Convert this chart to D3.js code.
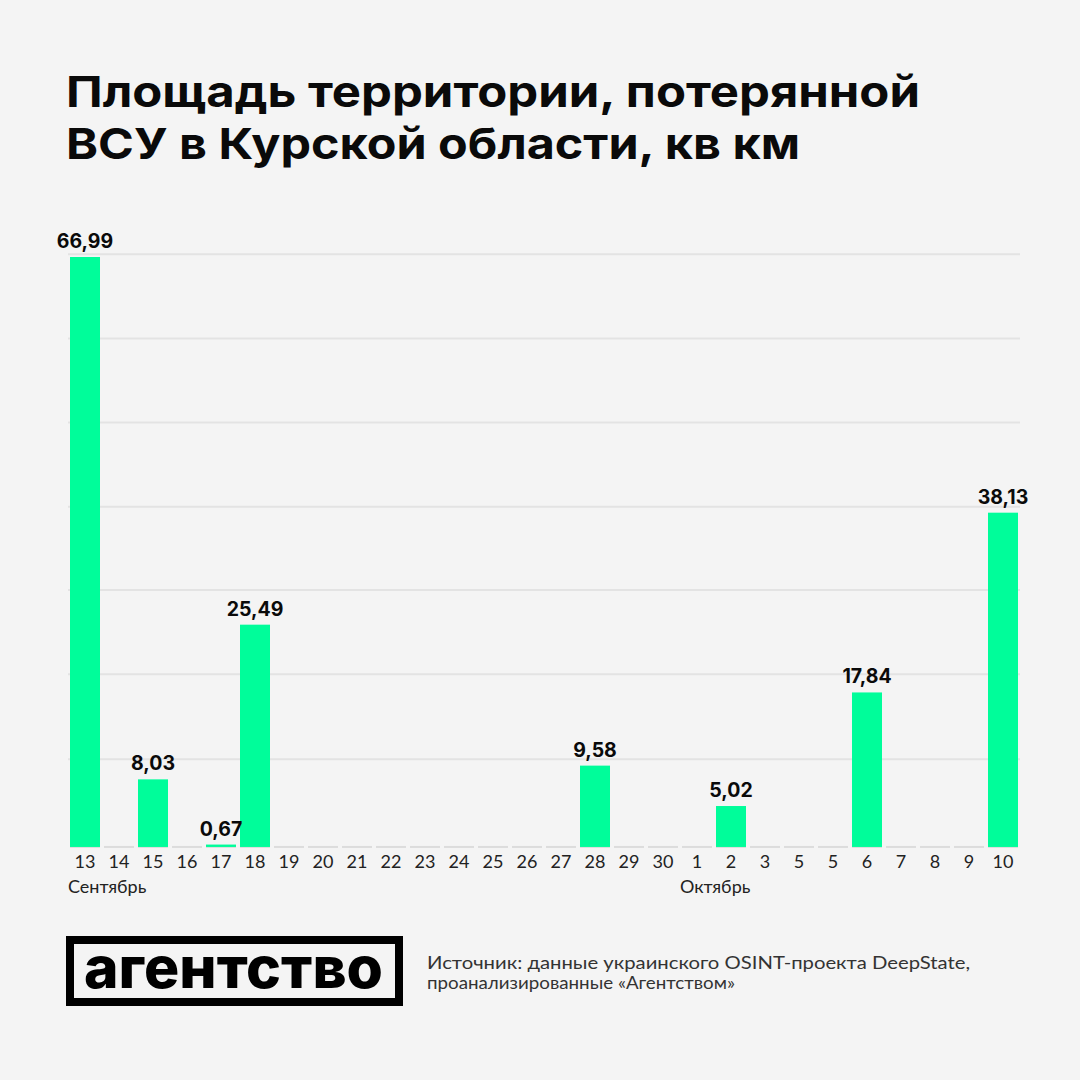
<!DOCTYPE html>
<html>
<head>
<meta charset="utf-8">
<script src="https://cdn.jsdelivr.net/npm/d3@7"></script>
<style>
  html, body { margin: 0; padding: 0; background: #f4f4f4; }
  svg { display: block; }
</style>
</head>
<body>
<svg id="chart" width="1080" height="1080"></svg>
<script>
// ---- data ----
const dayLabels = ["13","14","15","16","17","18","19","20","21","22","23","24","25","26","27","28","29","30","1","2","3","5","5","6","7","8","9","10"];
const values    = [66.99,0,8.03,0,0.67,25.49,0,0,0,0,0,0,0,0,0,9.58,0,0,0,5.02,0,0,0,17.84,0,0,0,38.13];
const months    = [{name:"Сентябрь", first:0},{name:"Октябрь", first:18}];
const gridValues = [10.3, 19.9, 29.4, 38.8, 48.3, 57.8, 67.3];
const baseValue = 0.4;
const titleLines = ["Площадь территории, потерянной", "ВСУ в Курской области, кв км"];
const titleWidths = [854, 734];
const sourceLines = ["Источник: данные украинского OSINT-проекта DeepState,", "проанализированные «Агентством»"];
const sourceWidths = [543, 308];
const logoText = "агентство";

// ---- setup ----
const svg = d3.select("#chart");
svg.append("rect").attr("width",1080).attr("height",1080).attr("fill","#f4f4f4");

const keys = dayLabels.map((d,i)=>i);
const x = d3.scaleBand().domain(keys).range([68,1020]).paddingInner(4/34).paddingOuter(2/34);
const y = d3.scaleLinear().domain([0,66.99]).range([850.5,257]);

const locale = d3.formatLocale({decimal:",", thousands:" ", grouping:[3], currency:["",""]});
const fmt = locale.format(".2f");

// title
svg.append("g").selectAll("text").data(titleLines).join("text")
  .attr("x",66).attr("y",(d,i)=>107+i*52)
  .attr("font-family","Inter, sans-serif").attr("font-weight",700)
  .attr("font-size",43).attr("fill","#0a0a0a")
  .attr("textLength",(d,i)=>titleWidths[i]).attr("lengthAdjust","spacingAndGlyphs")
  .text(d=>d);

// gridlines
svg.append("g").selectAll("line").data(gridValues).join("line")
  .attr("x1",68).attr("x2",1020)
  .attr("y1",d=>y(d)).attr("y2",d=>y(d))
  .attr("stroke","#e3e3e3").attr("stroke-width",2);

// baseline segments
svg.append("g").selectAll("line").data(keys).join("line")
  .attr("x1",d=>x(d)).attr("x2",d=>x(d)+x.bandwidth())
  .attr("y1",y(baseValue)).attr("y2",y(baseValue))
  .attr("stroke","#dcdcdc").attr("stroke-width",2);

// bars
const nz = keys.filter(i=>values[i]>0);
svg.append("g").selectAll("rect").data(nz).join("rect")
  .attr("x",d=>x(d)).attr("width",x.bandwidth())
  .attr("y",d=>y(values[d])).attr("height",d=>y(baseValue)-y(values[d]))
  .attr("fill","#00fd9a");

// value labels
svg.append("g").selectAll("text").data(nz).join("text")
  .attr("x",d=>x(d)+x.bandwidth()/2).attr("y",d=>y(values[d])-9)
  .attr("text-anchor","middle")
  .attr("font-family","Inter, sans-serif").attr("font-weight",700)
  .attr("font-size",19.5).attr("fill","#0a0a0a")
  .text(d=>fmt(values[d]));

// x axis tick labels
svg.append("g").selectAll("text").data(keys).join("text")
  .attr("x",d=>x(d)+x.bandwidth()/2).attr("y",868)
  .attr("text-anchor","middle")
  .attr("font-family","Lato, sans-serif").attr("font-weight",400)
  .attr("font-size",18).attr("fill","#222")
  .text(d=>dayLabels[d]);

// month labels
svg.append("g").selectAll("text").data(months).join("text")
  .attr("x",d=>x(d.first)-2).attr("y",893)
  .attr("font-family","Lato, sans-serif").attr("font-weight",400)
  .attr("font-size",18).attr("fill","#222")
  .text(d=>d.name);

// logo
const logo = svg.append("g");
logo.append("rect").attr("x",70).attr("y",940).attr("width",329).attr("height",62)
  .attr("fill","none").attr("stroke","#000").attr("stroke-width",8);
logo.append("text").attr("x",84).attr("y",988)
  .attr("font-family","Inter, sans-serif").attr("font-weight",800)
  .attr("font-size",57).attr("fill","#000")
  .attr("textLength",299).attr("lengthAdjust","spacingAndGlyphs")
  .text(logoText);

// source
svg.append("g").selectAll("text").data(sourceLines).join("text")
  .attr("x",427).attr("y",(d,i)=>969+i*20)
  .attr("font-family","Lato, sans-serif").attr("font-weight",400)
  .attr("font-size",17).attr("fill","#333")
  .attr("textLength",(d,i)=>sourceWidths[i]).attr("lengthAdjust","spacingAndGlyphs")
  .text(d=>d);
</script>
</body>
</html>
